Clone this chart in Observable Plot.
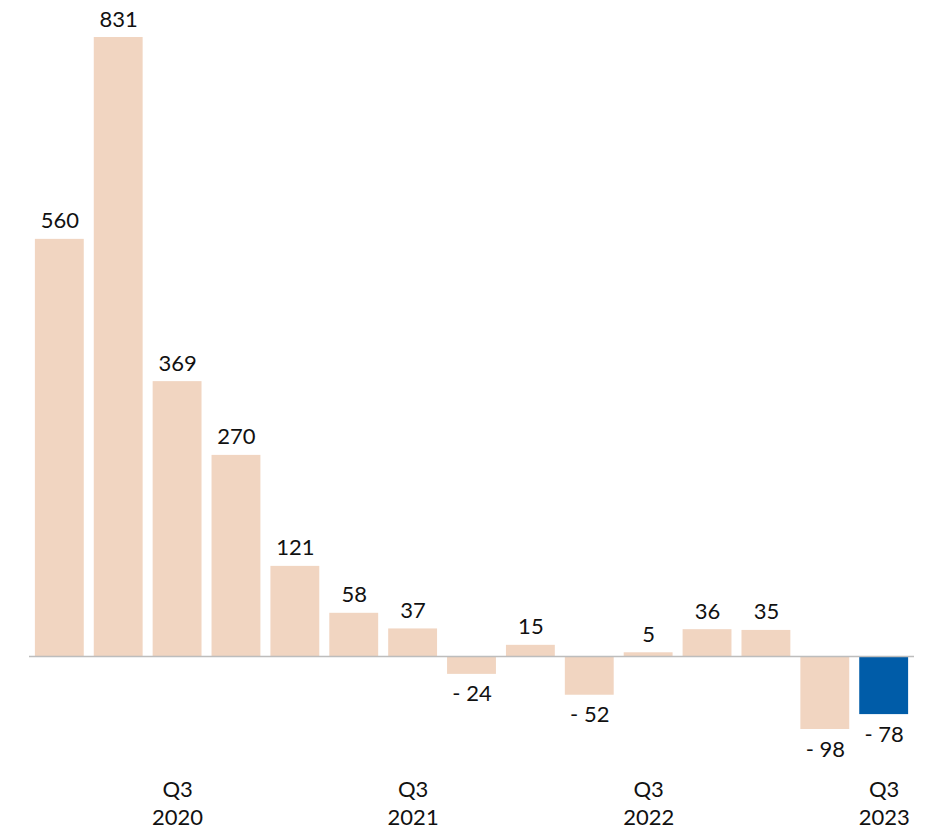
<!DOCTYPE html>
<html>
<head>
<meta charset="utf-8">
<script src="https://cdn.jsdelivr.net/npm/d3@7"></script>
<script src="https://cdn.jsdelivr.net/npm/@observablehq/plot@0.6"></script>
<style>
  html, body { margin: 0; padding: 0; background: #fff; }
  #chart svg { display: block; }
</style>
</head>
<body>
<div id="chart"></div>
<script>
const quarters = ["Q1 2020","Q2 2020","Q3 2020","Q4 2020","Q1 2021","Q2 2021","Q3 2021","Q4 2021","Q1 2022","Q2 2022","Q3 2022","Q4 2022","Q1 2023","Q2 2023","Q3 2023"];
const values = [560, 831, 369, 270, 121, 58, 37, -24, 15, -52, 5, 36, 35, -98, -78];
const tickLabels = ["Q3 2020","Q3 2021","Q3 2022","Q3 2023"];
const highlighted = ["Q3 2023"];

const data = quarters.map((q, i) => ({q, v: values[i], hi: highlighted.includes(q)}));
const fmt = v => v < 0 ? "- " + Math.abs(v) : String(v);

const font = "Lato, 'Open Sans', sans-serif";
const chart = Plot.plot({
  width: 935,
  height: 829,
  marginLeft: 29,
  marginRight: 21,
  marginTop: 0,
  marginBottom: 62,
  style: {fontFamily: font, fontSize: "22px", color: "#111", background: "#fff", overflow: "visible"},
  x: {domain: quarters, paddingInner: 0.17, paddingOuter: 0.1, round: false, axis: null},
  y: {domain: [0, 831], range: [656, 37], axis: null},
  marks: [
    Plot.barY(data.filter(d => !d.hi), {x: "q", y: "v", fill: "#f1d5c1"}),
    Plot.barY(data.filter(d => d.hi), {x: "q", y: "v", fill: "#005ca8"}),
    Plot.ruleY([0], {stroke: "#bdbdbd", strokeWidth: 1.5}),
    Plot.text(data.filter(d => d.v >= 0), {x: "q", y: "v", text: d => fmt(d.v), dy: -18, fontSize: 22, fill: "#111"}),
    Plot.text(data.filter(d => d.v < 0), {x: "q", y: "v", text: d => fmt(d.v), dy: 20, fontSize: 22, fill: "#111"}),
    Plot.axisX({ticks: tickLabels, tickSize: 0, tickPadding: 10, fontSize: 22, lineHeight: 1.27,
      tickFormat: d => d.replace(" ", "\n"), label: null, fill: "#111"})
  ]
});
document.getElementById("chart").append(chart);
</script>
</body>
</html>
